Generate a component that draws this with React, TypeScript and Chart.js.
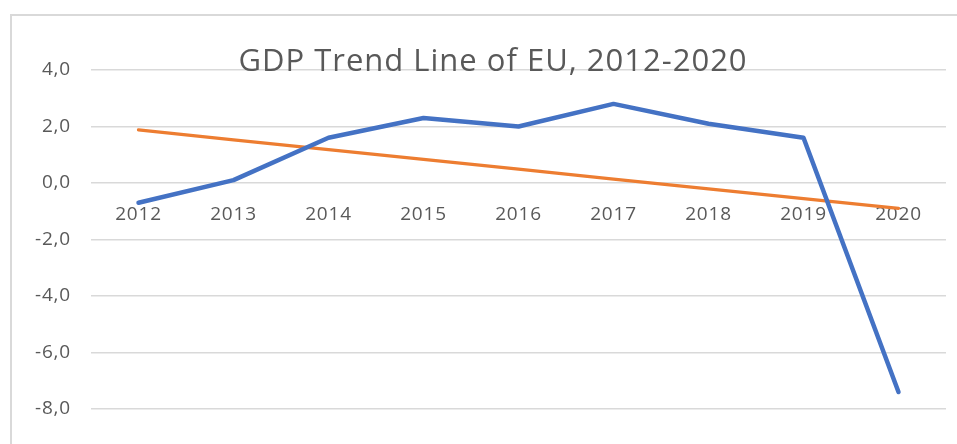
import React, { useEffect, useRef } from "react";
import { Chart, registerables } from "chart.js";

Chart.register(...registerables);

const years: string[] = ["2012", "2013", "2014", "2015", "2016", "2017", "2018", "2019", "2020"];
const gdpGrowth: number[] = [-0.7, 0.1, 1.6, 2.3, 2.0, 2.8, 2.1, 1.6, -7.4];
const trendLine: number[] = [1.88, 1.53, 1.18, 0.84, 0.49, 0.14, -0.21, -0.55, -0.9];
const yMin = -8;
const yMax = 4;
const yStep = 2;
const chartTitle = "GDP Trend Line of EU, 2012-2020";

const FONT = "'Open Sans', sans-serif";
const TEXT = "#595959";
const GRID = "#d9d9d9";

const spacingPlugin = {
  id: "letterSpacing",
  beforeDraw(chart: any) {
    (chart.ctx as any).letterSpacing = "0.8px";
  },
};

const titlePlugin = {
  id: "excelTitle",
  afterDraw(chart: any) {
    const ctx = chart.ctx;
    ctx.save();
    (ctx as any).letterSpacing = "1px";
    ctx.font = `31px ${FONT}`;
    ctx.fillStyle = TEXT;
    ctx.textAlign = "center";
    ctx.textBaseline = "alphabetic";
    ctx.fillText(chartTitle, 493, 71);
    ctx.restore();
  },
};

export default function App() {
  const ref = useRef<HTMLCanvasElement | null>(null);

  useEffect(() => {
    if (!ref.current) return;
    const chart = new Chart(ref.current, {
      type: "line",
      data: {
        labels: years,
        datasets: [
          {
            label: "GDP",
            data: gdpGrowth,
            borderColor: "#4472c4",
            backgroundColor: "#4472c4",
            borderWidth: 4.5,
            borderCapStyle: "round",
            borderJoinStyle: "round",
            pointRadius: 0,
            tension: 0,
          },
          {
            label: "Trend",
            data: trendLine,
            borderColor: "#ed7d31",
            backgroundColor: "#ed7d31",
            borderWidth: 3.3,
            borderCapStyle: "round",
            borderJoinStyle: "round",
            pointRadius: 0,
            tension: 0,
          },
        ],
      },
      options: {
        animation: false,
        responsive: false,
        maintainAspectRatio: false,
        layout: { padding: { top: 70, bottom: 35, right: 11, left: 0 } },
        plugins: {
          legend: { display: false },
          title: { display: false },
          tooltip: { enabled: false },
        },
        scales: {
          x: {
            type: "category",
            position: { y: 0 } as any,
            offset: true,
            grid: { display: false, drawTicks: false },
            border: { display: false },
            ticks: {
              color: TEXT,
              font: { family: FONT, size: 19 },
              padding: 20,
              maxRotation: 0,
              autoSkip: false,
            },
          },
          y: {
            min: yMin,
            max: yMax,
            afterFit(scale: any) {
              scale.width = 91;
            },
            grid: { color: GRID, lineWidth: 1.5, drawTicks: false },
            border: { display: false },
            ticks: {
              stepSize: yStep,
              color: TEXT,
              font: { family: FONT, size: 19 },
              padding: 20,
              callback: (v: any) => Number(v).toFixed(1).replace(".", ","),
            },
          },
        },
      },
      plugins: [spacingPlugin, titlePlugin],
    });
    return () => chart.destroy();
  }, []);

  return (
    <div
      style={{
        position: "fixed",
        left: 0,
        top: 0,
        width: 957,
        height: 444,
        overflow: "hidden",
        background: "#fff",
      }}
    >
      <div
        style={{
          position: "absolute",
          left: 10,
          top: 14,
          width: 1100,
          height: 600,
          border: `2px solid ${GRID}`,
          boxSizing: "border-box",
        }}
      />
      <canvas
        ref={ref}
        width={957}
        height={444}
        style={{ position: "absolute", left: 0, top: 0, width: 957, height: 444 }}
      />
    </div>
  );
}
